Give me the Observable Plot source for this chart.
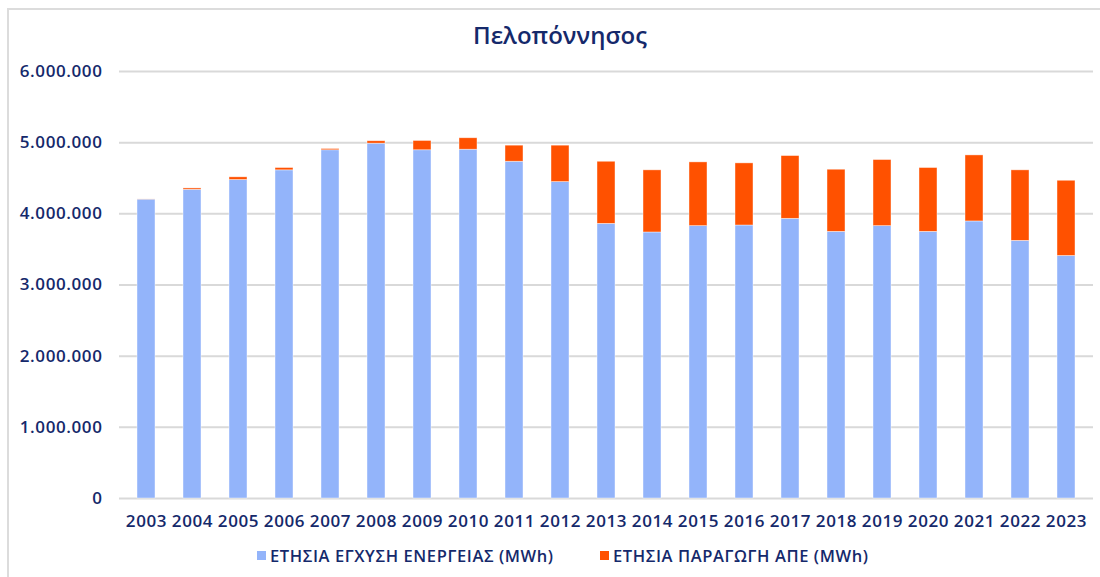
<!DOCTYPE html>
<html>
<head>
<meta charset="utf-8">
<script src="https://cdn.jsdelivr.net/npm/d3@7"></script>
<script src="https://cdn.jsdelivr.net/npm/@observablehq/plot@0.6"></script>
<style>
  html, body { margin: 0; padding: 0; background: #ffffff; }
  body { width: 1100px; height: 577px; position: relative; overflow: hidden; font-family: "Open Sans", sans-serif; color: #15296b; }
  #frame { position: absolute; left: 7px; top: 8px; width: 1200px; height: 700px; border-left: 2px solid #dcdcdc; border-top: 2px solid #dcdcdc; }
  #title { position: relative; height: 60px; line-height: 60px; text-align: center; font-size: 24px; font-weight: 600; padding-left: 20px; padding-top: 5px; box-sizing: border-box; }
  #chart { position: relative; }
  #chart svg text { letter-spacing: 0.6px; }
  #legend { position: relative; height: 37px; font-size: 16.5px; font-weight: 600; white-space: nowrap; letter-spacing: 0.6px; }
  .item { position: absolute; top: 4px; display: flex; align-items: center; }
  .sw { width: 9px; height: 9px; margin-right: 4px; }
</style>
</head>
<body>
<div id="frame"></div>
<div id="title">Πελοπόννησος</div>
<div id="chart"></div>
<div id="legend"></div>
<script>
const years = ["2003","2004","2005","2006","2007","2008","2009","2010","2011","2012","2013","2014","2015","2016","2017","2018","2019","2020","2021","2022","2023"];
const seriesNames = ["ΕΤΗΣΙΑ ΕΓΧΥΣΗ ΕΝΕΡΓΕΙΑΣ (MWh)", "ΕΤΗΣΙΑ ΠΑΡΑΓΩΓΗ ΑΠΕ (MWh)"];
const seriesColors = ["#93b4fa", "#ff5100"];
// Annual energy injection (MWh)
const injection = [4200000, 4338000, 4475000, 4611000, 4893000, 4986000, 4893000, 4901000, 4732000, 4446000, 3859000, 3738000, 3827000, 3836000, 3930000, 3747000, 3827000, 3747000, 3893000, 3620000, 3408000];
// Annual RES production (MWh)
const resProduction = [2000, 19000, 38000, 33000, 18000, 34000, 131000, 161000, 226000, 512000, 873000, 873000, 896000, 873000, 882000, 873000, 929000, 897000, 928000, 991000, 1057000];
const yTicks = [0, 1000000, 2000000, 3000000, 4000000, 5000000, 6000000];

const data = [];
years.forEach((y, i) => {
  data.push({year: y, series: seriesNames[0], value: injection[i]});
  data.push({year: y, series: seriesNames[1], value: resProduction[i]});
});

const greek = d3.formatLocale({decimal: ",", thousands: ".", grouping: [3], currency: ["", "€"]});
const fmt = greek.format(",d");

const textColor = "#15296b";

const chart = Plot.plot({
  width: 1100,
  height: 480,
  marginTop: 11,
  marginBottom: 42,
  marginLeft: 119,
  marginRight: 7,
  style: {fontFamily: "'Open Sans', sans-serif", background: "transparent", overflow: "visible"},
  x: {domain: years, paddingInner: 0.61, paddingOuter: 0.305, label: null},
  y: {domain: [0, 6000000], label: null},
  color: {domain: seriesNames, range: seriesColors},
  marks: [
    Plot.ruleY(yTicks, {stroke: "#d9d9d9", strokeWidth: 2}),
    Plot.barY(data, {x: "year", y: "value", fill: "series", stroke: "#ffffff", strokeOpacity: 0.6, strokeWidth: 0.7}),
    Plot.axisY({ticks: yTicks, tickFormat: fmt, tickSize: 0, tickPadding: 17, label: null, fontSize: 17, fontWeight: 600, fill: textColor}),
    Plot.axisX({tickSize: 0, tickPadding: 16, label: null, fontSize: 17, fontWeight: 600, fill: textColor})
  ]
});
document.getElementById("chart").appendChild(chart);

const legend = document.getElementById("legend");
const lefts = [257, 600];
seriesNames.forEach((name, i) => {
  const it = document.createElement("div");
  it.className = "item";
  it.style.left = lefts[i] + "px";
  const sw = document.createElement("span");
  sw.className = "sw";
  sw.style.background = seriesColors[i];
  const tx = document.createElement("span");
  tx.textContent = name;
  it.appendChild(sw);
  it.appendChild(tx);
  legend.appendChild(it);
});
</script>
</body>
</html>
